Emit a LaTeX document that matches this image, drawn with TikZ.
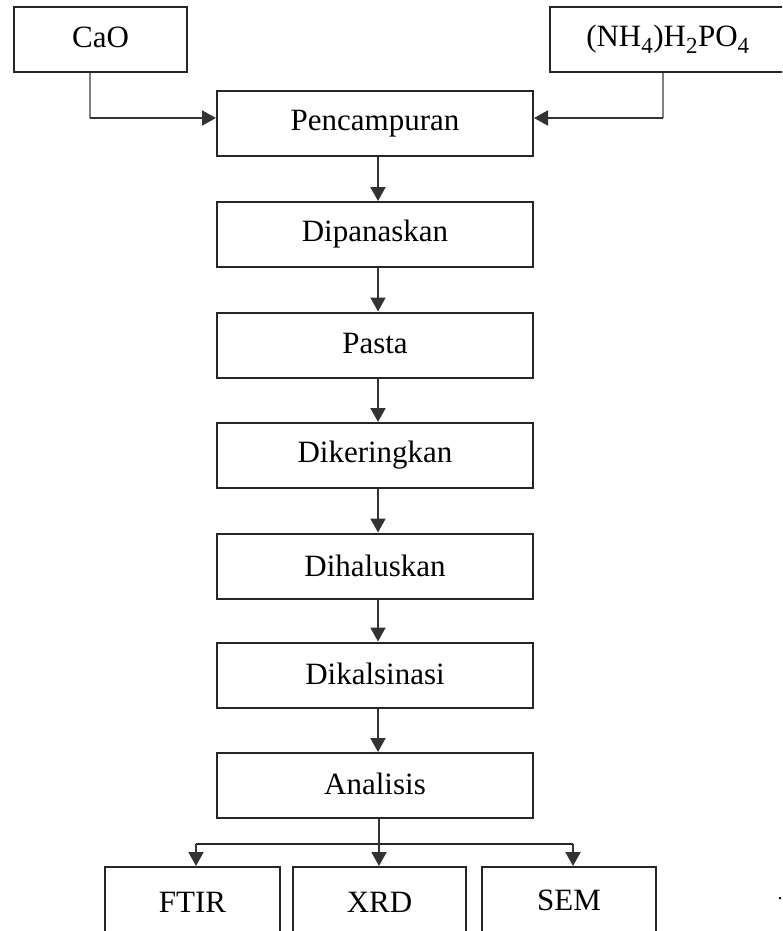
\documentclass[tikz,border=0pt]{standalone}
\usepackage{fontspec}
\setmainfont{Liberation Serif}
\usetikzlibrary{arrows.meta}
\newcommand{\chemsub}[1]{\textsubscript{\fontsize{23}{26}\selectfont #1}}
\tikzset{
  box/.style={draw=black!85, line width=2pt, minimum height=65pt, inner sep=0pt,
    font=\fontsize{31}{37}\selectfont},
  stepbox/.style={box, minimum width=316pt},
  sub/.style={box, minimum height=80pt},
  arr/.style={line width=2pt, black!80, -{Triangle[length=14pt,width=15pt]}},
  feed/.style={line width=2.6pt, black!50},
  plain/.style={line width=2pt, black!85}
}
\begin{document}
\begin{tikzpicture}[x=1pt,y=-1pt]
\useasboundingbox (0,0) rectangle (782,931);
\clip (0,0) rectangle (782,931);
% inputs
\node[box, minimum width=173pt] (cao) at (100.5,39.5) {\raisebox{4pt}{CaO}};
\node[box, minimum width=236pt] (nh) at (668,39.5) {\raisebox{3pt}{(NH\chemsub{4})H\chemsub{2}PO\chemsub{4}}};
% main steps
\node[stepbox] (p1) at (375,123.5) {\raisebox{3pt}{Pencampuran}};
\node[stepbox] (p2) at (375,234.5) {Dipanaskan};
\node[stepbox] (p3) at (375,345) {\raisebox{4pt}{Pasta}};
\node[stepbox] (p4) at (375,455.5) {Dikeringkan};
\node[stepbox] (p5) at (375,566) {Dihaluskan};
\node[stepbox] (p6) at (375,675) {\raisebox{3pt}{Dikalsinasi}};
\node[stepbox] (an) at (375,785.5) {\raisebox{4pt}{Analisis}};
% analysis boxes
\node[sub, minimum width=175pt] (ftir) at (192.5,907) {\raisebox{10pt}{FTIR}};
\node[sub, minimum width=173pt] (xrd) at (379.5,907) {\raisebox{10pt}{XRD}};
\node[sub, minimum width=174pt] (sem) at (569,907) {\raisebox{14pt}{SEM}};
\node[font=\fontsize{20}{24}\selectfont, inner sep=0pt] (dot) at (780,899) {.};
% feed connectors
\coordinate (ca) at (90,118);
\coordinate (na) at (663,118);
\draw[feed] ([xshift=-10.5pt]cao.south) -- (ca);
\draw[arr] (ca) -- (p1.west |- ca);
\draw[feed] ([xshift=-5pt]nh.south) -- (na);
\draw[arr] (na) -- (p1.east |- na);
% chain
\foreach \a/\b in {p1/p2,p2/p3,p3/p4,p4/p5,p5/p6,p6/an}
  \draw[arr] ([xshift=3pt]\a.south) -- ([xshift=3pt]\b.north);
% branch
\coordinate (bl) at (196,844);
\coordinate (br) at (573,844);
\draw[plain] (bl) -- (br);
\draw[arr] ([xshift=4pt]an.south) -- ([xshift=-0.5pt]xrd.north);
\draw[arr] (bl) -- (bl |- ftir.north);
\draw[arr] (br) -- (br |- sem.north);
\end{tikzpicture}
\end{document}
